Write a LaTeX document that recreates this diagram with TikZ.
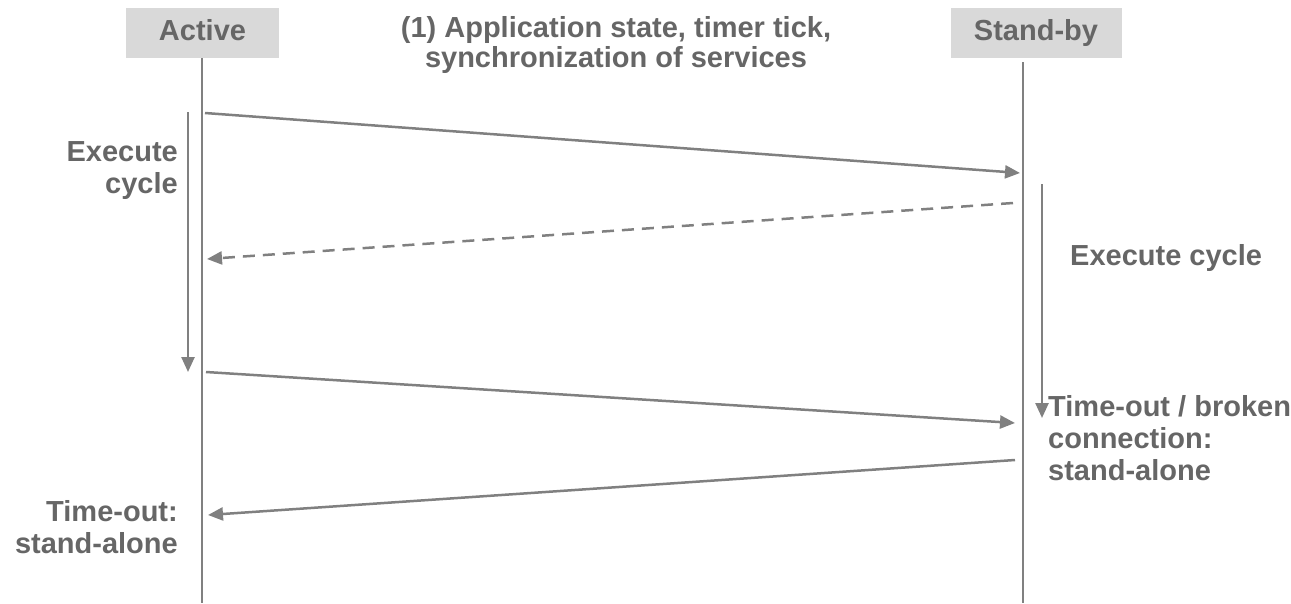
\documentclass[tikz,border=0pt]{standalone}
\usepackage{fontspec}
\setmainfont{Liberation Sans}
\usetikzlibrary{arrows.meta}
\definecolor{txtgray}{HTML}{666666}
\definecolor{linegray}{HTML}{808080}
\definecolor{hdrgray}{HTML}{D9D9D9}

\begin{document}
\begin{tikzpicture}[x=1pt,y=-1pt,
  lbl/.style={font=\fontsize{29}{32}\selectfont\bfseries, text=txtgray, inner sep=0pt},
  header/.style={lbl, fill=hdrgray, minimum height=50pt, text height=21pt, text depth=7pt},
  lifeline/.style={draw=linegray, line width=2.6pt},
  msg/.style={draw=linegray, line width=2.5pt, -{Triangle[length=15pt,width=13pt]}},
  reply/.style={msg, dash pattern=on 12pt off 8pt},
  cyclearrow/.style={msg}]

\useasboundingbox (0,0) rectangle (1291,603);

% participants
\node[header, minimum width=153pt] (active) at (202.5,33) {Active};
\node[header, minimum width=171pt] (standby) at (1036,33) {Stand-by};

% lifelines
\coordinate (actTop) at (202,58);
\coordinate (actBot) at (202,603);
\coordinate (sbTop) at (1023,62);
\coordinate (sbBot) at (1023,603);
\draw[lifeline] (actTop) -- (actBot);
\draw[lifeline] (sbTop) -- (sbBot);

% message end points
\coordinate (m1s) at (205,113);
\coordinate (m1e) at (1020,173);
\coordinate (m2s) at (1013,203);
\coordinate (m2e) at (207,259);
\coordinate (m3s) at (206,372);
\coordinate (m3e) at (1015,423);
\coordinate (m4s) at (1015,460);
\coordinate (m4e) at (208,515);

% execution cycles
\coordinate (c1s) at (188,112);
\coordinate (c1e) at (188,372);
\coordinate (c2s) at (1042,184);
\coordinate (c2e) at (1042,418);

\draw[msg] (m1s) -- (m1e);
\draw[reply] (m2s) -- (m2e);
\draw[msg] (m3s) -- (m3e);
\draw[msg] (m4s) -- (m4e);
\draw[cyclearrow] (c1s) -- (c1e);
\draw[cyclearrow] (c2s) -- (c2e);

% labels (base anchor of a multi-line node sits on its last line)
\node[lbl, font=\fontsize{29}{29.5}\selectfont\bfseries, align=center, anchor=base] (title) at (616,67)
  {(1) Application state, timer tick,\\synchronization of services};
\node[lbl, align=right, anchor=base east] (execL) at (178,193) {Execute\\cycle};
\node[lbl, anchor=base west] (execR) at (1070,265) {Execute cycle};
\node[lbl, align=left, anchor=base west] (toutR) at (1048,480)
  {Time-out / broken\\connection:\\stand-alone};
\node[lbl, align=right, anchor=base east] (toutL) at (178,553) {Time-out:\\stand-alone};
\end{tikzpicture}
\end{document}
